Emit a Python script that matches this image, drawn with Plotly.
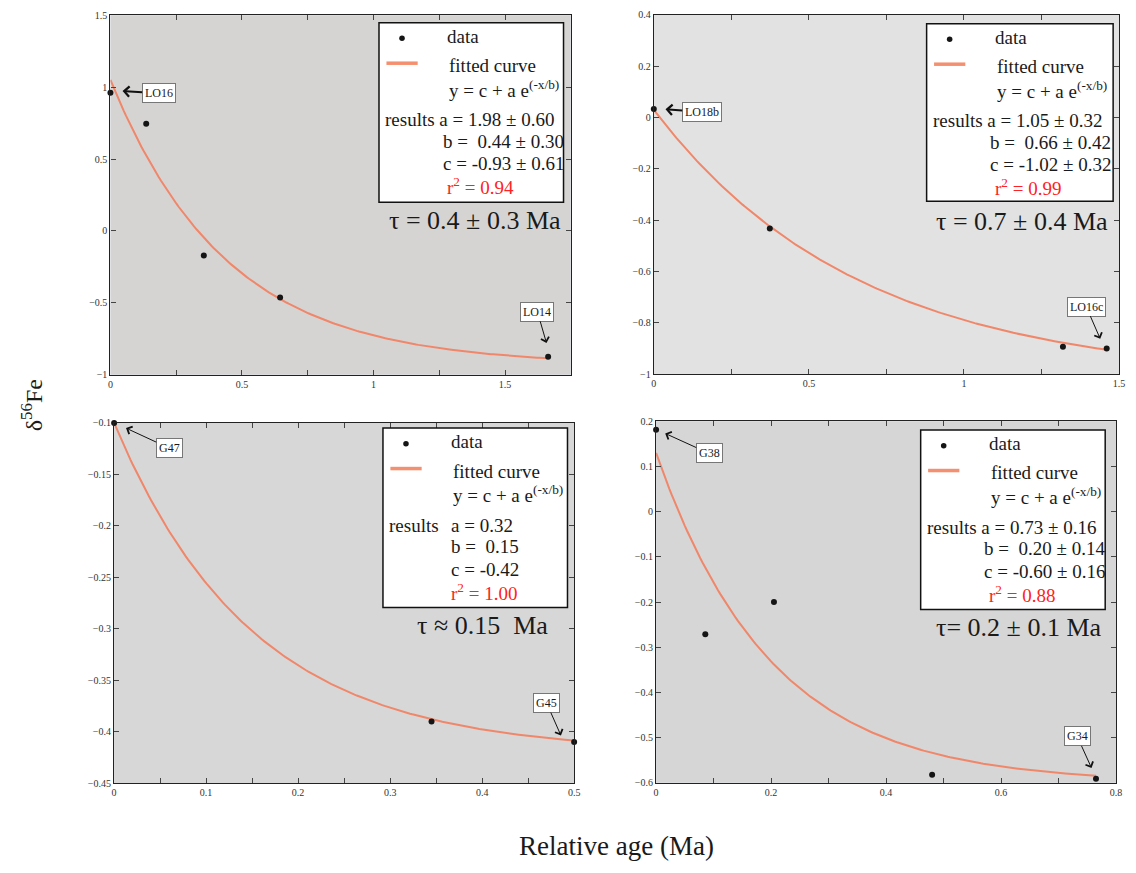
import numpy as np
import plotly.graph_objects as go

W, H = 1136, 873

# ---------------- data ----------------
p1_age = [0.0, 0.136, 0.355, 0.645, 1.664]
p1_d56 = [0.96, 0.746, -0.171, -0.463, -0.874]
p2_age = [0.0, 0.374, 1.319, 1.46]
p2_d56 = [0.033, -0.432, -0.893, -0.90]
p3_age = [0.0, 0.345, 0.5]
p3_d56 = [-0.10, -0.39, -0.41]
p4_age = [0.0, 0.0856, 0.205, 0.48, 0.765]
p4_d56 = [0.181, -0.271, -0.20, -0.582, -0.591]

# fit parameters shown in each panel: y = c + a exp(-x/b)
fit_a = [1.98, 1.05, 0.32, 0.73]
fit_b = [0.44, 0.66, 0.15, 0.20]
fit_c = [-0.93, -1.02, -0.42, -0.60]

sample_labels = [["LO16", "LO14"], ["LO18b", "LO16c"], ["G47", "G45"], ["G38", "G34"]]

res_line1 = ["results a = 1.98 ± 0.60", "results a = 1.05 ± 0.32", "a = 0.32", "results a = 0.73 ± 0.16"]
res_line2 = ["b = \u00a00.44 ± 0.30", "b = \u00a00.66 ± 0.42", "b = \u00a00.15", "b = \u00a00.20 ± 0.14"]
res_line3 = ["c = -0.93 ± 0.61", "c = -1.02 ± 0.32", "c = -0.42", "c = -0.60 ± 0.16"]
r2_text = ["r<sup>2</sup> = 0.94", "r<sup>2</sup> = 0.99", "r<sup>2</sup> = 1.00", "r<sup>2</sup> = 0.88"]
tau_text = ["τ = 0.4 ± 0.3 Ma", "τ = 0.7 ± 0.4 Ma", "τ ≈ 0.15 \u00a0Ma", "τ= 0.2 ± 0.1 Ma"]

xlabel = "Relative age (Ma)"
ylabel = "δ<sup>56</sup>Fe"

ages = [p1_age, p2_age, p3_age, p4_age]
d56s = [p1_d56, p2_d56, p3_d56, p4_d56]

# ---------------- layout / style ----------------
FONT = "Liberation Serif"
CURVE = "#f0876a"
TXT = "#1a1a1a"

# panel pixel boxes: (left, right, top, bottom)
panels = [
    dict(box=(108.3, 572.3, 9.3, 374.0), xr=[0, 1.75], xd=0.5, xm=0.25, yr=[-1, 1.5], yd=0.5, bg="#d6d4d3"),
    dict(box=(656.0, 1125.0, 9.0, 373.3), xr=[0, 1.5], xd=0.5, xm=0.25, yr=[-1, 0.4], yd=0.2, bg="#e2e2e2"),
    dict(box=(112.0, 575.7, 422.7, 788.0), xr=[0, 0.5], xd=0.1, xm=0.05, yr=[-0.45, -0.1], yd=0.05, bg="#d7d7d7"),
    dict(box=(658.3, 1122.0, 421.0, 787.7), xr=[0, 0.8], xd=0.2, xm=0.1, yr=[-0.6, 0.2], yd=0.1, bg="#d6d6d6"),
]
legend_box = [(379, 17, 565, 199), (931, 18, 1119, 198), (383, 428, 569, 610), (925, 430, 1111, 612)]
tau_dx = [7.6, 7.6, 32, 13.4]
# label boxes: (center_x, center_y, head_x, head_y, width)
label_pos = [
    [(156.6, 88.3, 120.5, 86.3, 2), (538.8, 310.5, 547.8, 341.7, 1)],
    [(704.0, 107.3, 667.8, 104.8, 2), (1092.0, 305.3, 1106.0, 337.5, 1)],
    [(167.2, 448.0, 124.0, 428.0, 1), (548.1, 707.2, 562.4, 739.7, 1)],
    [(711.5, 453.4, 667.5, 433.4, 1), (1082.9, 741.0, 1097.2, 772.6, 1)],
]


def px(x):
    return x / W


def py(y):
    return 1 - y / H


fig = go.Figure()
layout = dict(
    width=W, height=H, margin=dict(l=0, r=0, t=0, b=0),
    paper_bgcolor="white", showlegend=False,
    font=dict(family=FONT, color=TXT),
)
shapes, annotations = [], []

for i, p in enumerate(panels):
    n = "" if i == 0 else str(i + 1)
    l, r, t, b = p["box"]
    tickfont = dict(family=FONT, size=10, color="#333333")
    layout["xaxis" + n] = dict(
        domain=[px(l), px(r)], range=p["xr"], anchor="y" + n,
        dtick=p["xd"], tick0=0, ticks="inside", ticklen=5, tickcolor="#444",
        minor=dict(dtick=p["xm"], tick0=0, ticks="inside", ticklen=5, tickcolor="#444"),
        showline=True, linecolor="#222", linewidth=1.3, mirror="ticks",
        showgrid=False, zeroline=False, tickfont=tickfont,
    )
    layout["yaxis" + n] = dict(
        domain=[py(b), py(t)], range=p["yr"], anchor="x" + n,
        dtick=p["yd"], tick0=0, ticks="inside", ticklen=5, tickcolor="#444",
        showline=True, linecolor="#222", linewidth=1.3, mirror="ticks",
        showgrid=False, zeroline=False, tickfont=tickfont,
    )
    shapes.append(dict(type="rect", xref="x%s domain" % n, yref="y%s domain" % n,
                       x0=0, x1=1, y0=0, y1=1, fillcolor=p["bg"], line=dict(width=0), layer="below"))

    xs = np.linspace(min(ages[i]), max(ages[i]), 200)
    ys = fit_c[i] + fit_a[i] * np.exp(-xs / fit_b[i])
    fig.add_trace(go.Scatter(x=xs, y=ys, mode="lines", line=dict(color=CURVE, width=2),
                             xaxis="x" + n, yaxis="y" + n, cliponaxis=False, hoverinfo="skip"))
    fig.add_trace(go.Scatter(x=ages[i], y=d56s[i], mode="markers",
                             marker=dict(color="#151515", size=6),
                             xaxis="x" + n, yaxis="y" + n, cliponaxis=False))

    # legend box
    bx0, by0, bx1, by1 = legend_box[i]
    shapes.append(dict(type="rect", xref="paper", yref="paper", x0=px(bx0), x1=px(bx1),
                       y0=py(by1), y1=py(by0), fillcolor="white", line=dict(color="#111", width=1.5)))
    shapes.append(dict(type="circle", xref="paper", yref="paper",
                       x0=px(bx0 + 23.2 - 2.8), x1=px(bx0 + 23.2 + 2.8),
                       y0=py(by0 + 15.8 + 2.8), y1=py(by0 + 15.8 - 2.8),
                       fillcolor="#151515", line=dict(width=0)))
    shapes.append(dict(type="line", xref="paper", yref="paper",
                       x0=px(bx0 + 7.5), x1=px(bx0 + 39), y0=py(by0 + 41), y1=py(by0 + 41),
                       line=dict(color="#f4906f", width=3.5)))

    def txt(dx, dy, s, size=19, color=TXT):
        annotations.append(dict(xref="paper", yref="paper", x=px(bx0 + dx), y=py(by0 + dy), text=s,
                                showarrow=False, xanchor="left", yanchor="middle",
                                font=dict(family=FONT, size=size, color=color)))

    txt(67, 13.5, "data")
    txt(68.5, 43.5, "fitted curve")
    txt(68.5, 67, "y = c + a e<sup>(-x/b)</sup>")
    if i == 2:
        txt(3.7, 98.5, "results")
        txt(66.5, 98.5, res_line1[i])
        txt(66.5, 120.5, res_line2[i])
        txt(66.5, 143, res_line3[i])
        txt(66.5, 166, r2_text[i], color="#ff2222")
    else:
        txt(4, 98.5, res_line1[i])
        txt(62, 120.5, res_line2[i])
        txt(62, 143, res_line3[i])
        txt(67, 166, r2_text[i], color="#ff2222")
    txt(tau_dx[i], 200, tau_text[i], size=26)

    # sample labels with arrows
    for lab, (cx, cy, hx, hy, aw) in zip(sample_labels[i], label_pos[i]):
        annotations.append(dict(
            xref="paper", yref="paper", x=px(hx), y=py(hy), ax=cx - hx, ay=cy - hy,
            axref="pixel", ayref="pixel", text=lab, showarrow=True,
            arrowhead=4, arrowsize=1.6 if aw == 1 else 1.0, arrowwidth=aw, arrowcolor="#111",
            bgcolor="white", bordercolor="#777", borderwidth=1, borderpad=2,
            font=dict(family=FONT, size=12, color=TXT),
        ))

annotations.append(dict(xref="paper", yref="paper", x=px(618), y=py(852), text=xlabel,
                        showarrow=False, xanchor="center", yanchor="middle",
                        font=dict(family=FONT, size=27, color=TXT)))
annotations.append(dict(xref="paper", yref="paper", x=px(30), y=py(405), text=ylabel,
                        textangle=-90, showarrow=False, xanchor="center", yanchor="middle",
                        font=dict(family=FONT, size=24, color=TXT)))

layout["shapes"] = shapes
layout["annotations"] = annotations
fig.update_layout(**layout)
fig.write_html("out.html", config={"displayModeBar": False},
               post_script="document.body.style.margin='0';document.body.style.padding='0';")
